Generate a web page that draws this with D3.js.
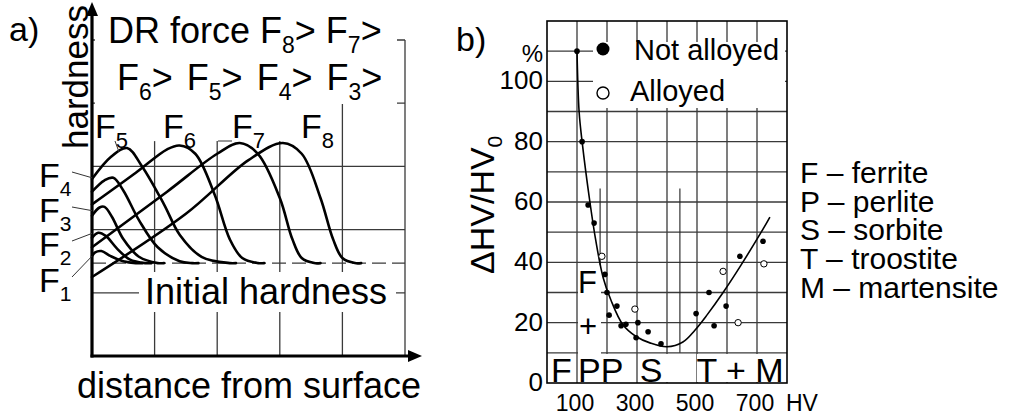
<!DOCTYPE html>
<html>
<head>
<meta charset="utf-8">
<script src="https://cdn.jsdelivr.net/npm/d3@7"></script>
<style>
body { margin: 0; background: #fff; }
svg { display: block; font-family: "Liberation Sans", Arial, sans-serif; fill: #000; }
.grid { stroke: #3a3a3a; stroke-width: 1.3; fill: none; }
.axis { stroke: #000; stroke-width: 3.2; fill: none; }
.profile { stroke: #000; stroke-width: 2.6; fill: none; stroke-linejoin: round; stroke-linecap: round; }
.trend { stroke: #000; stroke-width: 1.6; fill: none; }
.leader { stroke: #333; stroke-width: 1; }
</style>
</head>
<body>
<div id="chart"></div>
<script>
// ---- panel a: hardness vs depth, one grid cell = 1 unit ----
var initialHardness = 1.47;
var profileF1 = [[0,1.58],[0.05,1.64],[0.15,1.66],[0.3,1.58],[0.5,1.5],[0.7,1.47],[0.8,1.47]];
var profileF2 = [[0,1.87],[0.1,1.95],[0.22,1.9],[0.4,1.7],[0.6,1.53],[0.85,1.47],[0.95,1.47]];
var profileF3 = [[0,2.22],[0.12,2.35],[0.2,2.36],[0.32,2.2],[0.5,1.85],[0.75,1.57],[1.05,1.47],[1.15,1.47]];
var profileF4 = [[0,2.6],[0.2,2.78],[0.34,2.82],[0.5,2.62],[0.75,2.15],[1.05,1.72],[1.4,1.5],[1.6,1.47],[1.7,1.47]];
var profileF5 = [[0,2.8],[0.3,3.15],[0.56,3.29],[0.8,3.0],[1.15,2.4],[1.4,1.92],[1.75,1.57],[2.2,1.47],[2.3,1.47]];
var profileF6 = [[0,2.4],[0.7,2.9],[1.2,3.27],[1.4,3.33],[1.65,3.2],[1.96,2.55],[2.2,1.85],[2.4,1.55],[2.65,1.47],[2.75,1.47]];
var profileF7 = [[0,1.72],[1.2,2.6],[2.0,3.2],[2.36,3.37],[2.65,3.2],[3.0,2.5],[3.2,1.85],[3.35,1.55],[3.55,1.47],[3.65,1.47]];
var profileF8 = [[0,1.25],[1.5,2.25],[2.5,3.1],[3.05,3.37],[3.35,3.2],[3.65,2.5],[3.85,1.85],[4.0,1.55],[4.2,1.47],[4.3,1.47]];
var profiles = [profileF1, profileF2, profileF3, profileF4, profileF5, profileF6, profileF7, profileF8];

// ---- panel b: relative hardness increase vs initial HV ----
var notAlloyed = [[100,110],[117,80],[137,59],[157,53],[193,36],[200,30],[207,22.5],[233,25.5],[247,19],[263,19.5],
  [297,15],[303,20],[337,17],[380,13],[497,23],[540,30],[557,19],[597,25.5],[643,42],[720,47]];
var alloyed = [[183,42],[293,24.5],[587,37],[637,20],[723,39.5]];
var trendHV  = [100,107,117,143,163,187,213,253,297,343,400,453,493,533,587,643,720,743];
var trendVal = [110,90,80,60,47,35,27.5,19.3,15.4,13.3,12,13.6,17.5,22.5,30,38.5,51,55];
var xTicksB = [100,300,500,700];
var yTicksB = [0,20,40,60,80,100];
var phaseNotes = ["F \u2013 ferrite","P \u2013 perlite","S \u2013 sorbite","T \u2013 troostite","M \u2013 martensite"];

var width = 1014, height = 416;
var svg = d3.select("#chart").append("svg").attr("width", width).attr("height", height);
svg.append("rect").attr("width", width).attr("height", height).attr("fill", "#fff");

// text with subscripts: parts = ["DR force F", {s:"8"}, ">"]
function rich(g, x, y, size, subSize, parts) {
  var t = g.append("text").attr("x", x).attr("y", y).attr("font-size", size);
  var down = false;
  parts.forEach(function(p) {
    if (typeof p === "string") {
      t.append("tspan").attr("dy", down ? -subSize * 0.45 : 0).text(p);
      down = false;
    } else {
      t.append("tspan").attr("font-size", subSize).attr("dy", down ? 0 : subSize * 0.45).text(p.s);
      down = true;
    }
  });
  return t;
}

// ================= panel a =================
var xA = d3.scaleLinear().domain([0, 5]).range([92, 405]);
var yA = d3.scaleLinear().domain([0, 5]).range([356, 40]);
var ga = svg.append("g");

d3.range(1, 6).forEach(function(u) {
  ga.append("line").attr("class", "grid")
    .attr("x1", xA(u)).attr("x2", xA(u)).attr("y1", yA(u === 4 ? 4 : (u === 5 ? 5 : 3.4))).attr("y2", yA(0));
});
d3.range(1, 6).forEach(function(v) {
  ga.append("line").attr("class", "grid")
    .attr("x1", xA(0)).attr("x2", xA(5)).attr("y1", yA(v)).attr("y2", yA(v));
});
ga.append("line").attr("class", "grid").attr("stroke-dasharray", "14,6")
  .attr("x1", xA(0)).attr("x2", xA(5)).attr("y1", yA(initialHardness)).attr("y2", yA(initialHardness));

// white patches behind the texts
ga.append("rect").attr("x", 95).attr("y", 0).attr("width", 302).attr("height", 104).attr("fill", "#fff");
ga.append("rect").attr("x", 95).attr("y", 104).attr("width", 241).attr("height", 36).attr("fill", "#fff");
ga.append("rect").attr("x", 139).attr("y", 272).attr("width", 257).attr("height", 40).attr("fill", "#fff");

var lineA = d3.line().x(function(d) { return xA(d[0]); }).y(function(d) { return yA(d[1]); })
  .curve(d3.curveCatmullRom.alpha(0.5));
ga.selectAll("path.profile").data(profiles).enter().append("path")
  .attr("class", "profile").attr("d", lineA);

// axes with arrows
ga.append("line").attr("class", "axis").attr("x1", xA(0)).attr("x2", xA(0)).attr("y1", yA(0) + 1.5).attr("y2", 10);
ga.append("line").attr("class", "axis").attr("x1", xA(0) - 1.5).attr("x2", 412).attr("y1", yA(0)).attr("y2", yA(0));
ga.append("path").attr("d", "M" + xA(0) + ",2 l-6,14 l12,0 z");
ga.append("path").attr("d", "M422," + yA(0) + " l-14,-6 l0,12 z");

ga.append("text").attr("x", 9).attr("y", 41).attr("font-size", 34).text("a)");
ga.append("text").attr("transform", "translate(88,77) rotate(-90)").attr("text-anchor", "middle")
  .attr("font-size", 35).text("hardness");
ga.append("text").attr("x", 249).attr("y", 398).attr("text-anchor", "middle").attr("font-size", 36)
  .text("distance from surface");
ga.append("text").attr("x", 266).attr("y", 304).attr("text-anchor", "middle").attr("font-size", 36)
  .text("Initial hardness");

rich(ga, 108, 43, 36, 23, ["DR force F", {s:"8"}, "> F", {s:"7"}, ">"]);
rich(ga, 117, 90, 36, 23, ["F", {s:"6"}, "> F", {s:"5"}, "> F", {s:"4"}, "> F", {s:"3"}, ">"])
  .attr("word-spacing", 4);

var topLabels = [["5", 95], ["6", 163], ["7", 232], ["8", 301]];
topLabels.forEach(function(l) {
  rich(ga, l[1], 138, 34, 22, ["F", {s:l[0]}]);
});
ga.append("line").attr("class", "leader").attr("x1", 115).attr("y1", 141).attr("x2", 119).attr("y2", 152);
ga.append("line").attr("class", "leader").attr("x1", 218).attr("y1", 141).attr("x2", 232).attr("y2", 141);

var sideLabels = [["4", 187, 2.82], ["3", 222, 2.3], ["2", 256, 1.94], ["1", 292, 1.58]];
sideLabels.forEach(function(l) {
  rich(ga, 39, l[1], 34, 21, ["F", {s:l[0]}]);
  ga.append("line").attr("class", "leader").attr("x1", 72).attr("y1", l[1] - 15)
    .attr("x2", xA(0)).attr("y2", yA(l[2]));
});

// ================= panel b =================
var xB = d3.scaleLinear().domain([0, 800]).range([547, 787]);
var yB = d3.scaleLinear().domain([0, 120]).range([383, 21]);
var gb = svg.append("g");

d3.range(100, 800, 100).forEach(function(h) {
  gb.append("line").attr("class", "grid").attr("x1", xB(h)).attr("x2", xB(h)).attr("y1", yB(120)).attr("y2", yB(0));
});
d3.range(10, 120, 10).forEach(function(v) {
  gb.append("line").attr("class", "grid").attr("x1", xB(0)).attr("x2", xB(800)).attr("y1", yB(v)).attr("y2", yB(v));
});
gb.append("rect").attr("x", xB(0)).attr("y", yB(120)).attr("width", xB(800) - xB(0)).attr("height", yB(0) - yB(120))
  .attr("fill", "none").attr("stroke", "#000").attr("stroke-width", 1.6);

// legend patch
gb.append("rect").attr("x", 593).attr("y", 42).attr("width", 192).attr("height", 66).attr("fill", "#fff");
// phase label patches
[[549, 25], [578, 47], [638, 42], [697, 86]].forEach(function(r) {
  gb.append("rect").attr("x", r[0]).attr("y", 354).attr("width", r[1]).attr("height", 28).attr("fill", "#fff");
});
gb.append("rect").attr("x", 578).attr("y", 265).attr("width", 23).attr("height", 90).attr("fill", "#fff");

// phase boundary marks
gb.append("line").attr("stroke", "#222").attr("stroke-width", 1.1)
  .attr("x1", xB(177)).attr("x2", xB(177)).attr("y1", yB(64.5)).attr("y2", yB(39));
gb.append("line").attr("stroke", "#222").attr("stroke-width", 1.1)
  .attr("x1", xB(443)).attr("x2", xB(443)).attr("y1", yB(64.5)).attr("y2", yB(10));

var trend = trendHV.map(function(h, i) { return [h, trendVal[i]]; });
gb.append("path").attr("class", "trend").datum(trend)
  .attr("d", d3.line().x(function(d) { return xB(d[0]); }).y(function(d) { return yB(d[1]); })
    .curve(d3.curveCatmullRom.alpha(0.5)));

gb.selectAll("circle.na").data(notAlloyed).enter().append("circle")
  .attr("cx", function(d) { return xB(d[0]); }).attr("cy", function(d) { return yB(d[1]); })
  .attr("r", 2.8).attr("fill", "#000");
gb.selectAll("circle.al").data(alloyed).enter().append("circle")
  .attr("cx", function(d) { return xB(d[0]); }).attr("cy", function(d) { return yB(d[1]); })
  .attr("r", 3.2).attr("fill", "#fff").attr("stroke", "#000").attr("stroke-width", 1);

// legend
gb.append("circle").attr("cx", 603).attr("cy", 49).attr("r", 6.5).attr("fill", "#000");
gb.append("circle").attr("cx", 603).attr("cy", 93).attr("r", 6).attr("fill", "#fff").attr("stroke", "#000").attr("stroke-width", 1.4);
gb.append("text").attr("x", 634).attr("y", 60).attr("font-size", 29).text("Not alloyed");
gb.append("text").attr("x", 630).attr("y", 101).attr("font-size", 29).text("Alloyed");

// ticks
gb.selectAll("text.yt").data(yTicksB).enter().append("text")
  .attr("x", 543).attr("y", function(d) { return yB(d) + 8; }).attr("text-anchor", "end")
  .attr("font-size", 26).text(function(d) { return d; });
gb.append("text").attr("x", 543).attr("y", 62).attr("text-anchor", "end").attr("font-size", 24).text("%");
gb.selectAll("text.xt").data(xTicksB).enter().append("text")
  .attr("x", function(d) { return xB(d) - 2; }).attr("y", 411).attr("text-anchor", "middle")
  .attr("font-size", 23).text(function(d) { return d; });
gb.append("text").attr("x", 786).attr("y", 411).attr("font-size", 23).text("HV");

gb.append("text").attr("x", 456).attr("y", 51).attr("font-size", 34).text("b)");
var yt = gb.append("text").attr("transform", "translate(494,274) rotate(-90)").attr("font-size", 34);
yt.append("tspan").text("\u0394HV/HV");
yt.append("tspan").attr("font-size", 21).attr("dy", 8).text("0");

// phase letters
gb.append("text").attr("x", 551).attr("y", 382).attr("font-size", 34).text("F");
gb.append("text").attr("x", 578).attr("y", 382).attr("font-size", 34).text("PP");
gb.append("text").attr("x", 651).attr("y", 382).attr("text-anchor", "middle").attr("font-size", 34).text("S");
gb.append("text").attr("x", 740).attr("y", 382).attr("text-anchor", "middle").attr("font-size", 34).text("T + M");
gb.append("text").attr("x", 578).attr("y", 293).attr("font-size", 31).text("F");
gb.append("text").attr("x", 579).attr("y", 337).attr("font-size", 31).text("+");

// side notes
svg.selectAll("text.note").data(phaseNotes).enter().append("text")
  .attr("x", 800).attr("y", function(d, i) { return 183 + i * 28.7; })
  .attr("font-size", 30).text(function(d) { return d; });
</script>
</body>
</html>
